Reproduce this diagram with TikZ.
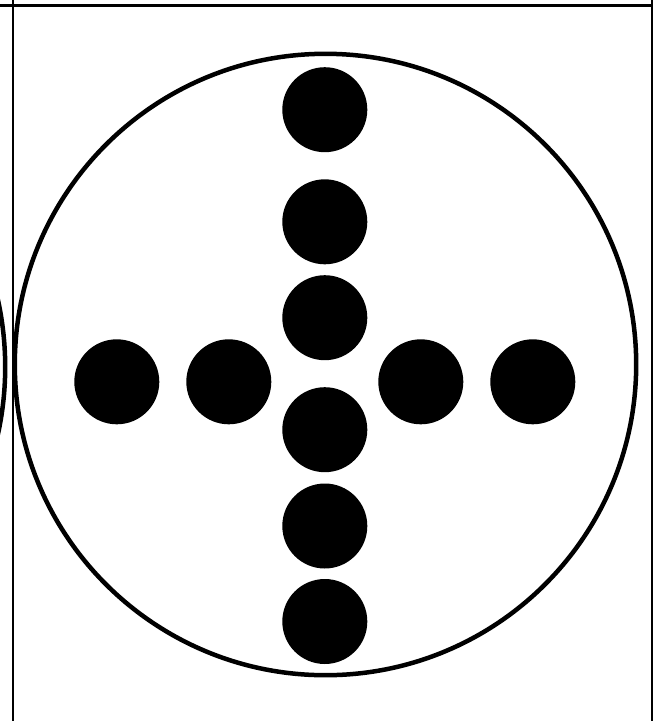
\documentclass[tikz,border=0pt]{standalone}
\begin{document}
\begin{tikzpicture}[x=1pt,y=-1pt,
  dot/.style={circle,fill=black,draw=none,minimum size=85pt,inner sep=0pt},
  ring/.style={draw=black,line width=4.5pt},
  frame/.style={draw=black,line width=2.5pt}]
\useasboundingbox (0,0) rectangle (653,721);
\fill[white] (0,0) rectangle (653,721);
% frame lines
\coordinate (tl) at (0,5.5);
\coordinate (tr) at (653,5.5);
\coordinate (lt) at (13,0);
\coordinate (lb) at (13,721);
\coordinate (rt) at (652,0);
\coordinate (rb) at (652,721);
\draw[frame,line width=3pt] (tl) -- (tr);
\draw[frame] (lt) -- (lb);
\draw[frame] (rt) -- (rb);
% neighbouring circle (partly visible)
\draw[ring] (-305.5,367) circle[radius=310.7];
% main circle
\draw[ring] (325.5,364.5) circle[radius=310.7];
% vertical dots
\node[dot] (v1) at (324.8,109.7) {};
\node[dot] (v2) at (324.8,221.8) {};
\node[dot] (v3) at (324.8,317.7) {};
\node[dot] (v4) at (324.8,429.7) {};
\node[dot] (v5) at (324.8,526) {};
\node[dot] (v6) at (324.8,621.5) {};
% horizontal dots
\node[dot] (h1) at (116.8,381.8) {};
\node[dot] (h2) at (228.8,381.8) {};
\node[dot] (h3) at (420.8,381.8) {};
\node[dot] (h4) at (532.8,381.8) {};
\end{tikzpicture}
\end{document}
